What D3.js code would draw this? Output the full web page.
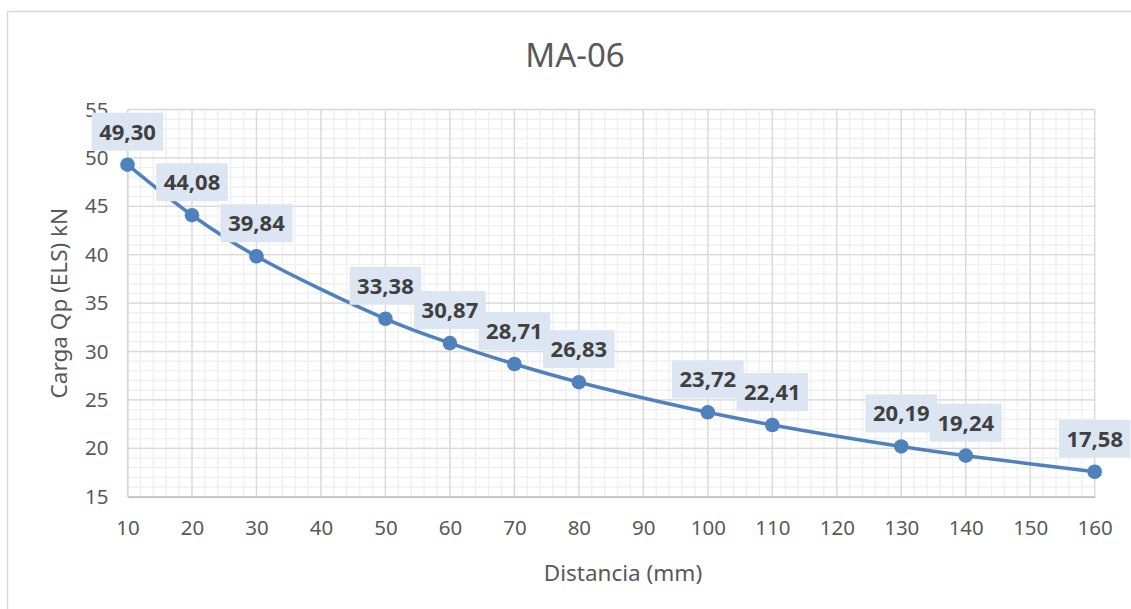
<!DOCTYPE html>
<html>
<head>
<meta charset="utf-8">
<script src="https://cdn.jsdelivr.net/npm/d3@7"></script>
<style>
html,body{margin:0;padding:0;background:#fff;}
svg{display:block;}
text{font-family:"Noto Sans","Open Sans",sans-serif;}
</style>
</head>
<body>
<svg id="chart" width="1131" height="609"></svg>
<script>
const chartTitle = "MA-06";
const xTitle = "Distancia (mm)";
const yTitle = "Carga Qp (ELS) kN";
const distances = [10, 20, 30, 50, 60, 70, 80, 100, 110, 130, 140, 160];
const loads = [49.30, 44.08, 39.84, 33.38, 30.87, 28.71, 26.83, 23.72, 22.41, 20.19, 19.24, 17.58];
const xTicks = [10, 20, 30, 40, 50, 60, 70, 80, 90, 100, 110, 120, 130, 140, 150, 160];
const yTicks = [15, 20, 25, 30, 35, 40, 45, 50, 55];
const xMinorStep = 2;
const yMinorStep = 1;

const svg = d3.select("#chart");
const W = 1131, H = 609;
const plot = {left: 127.5, right: 1094.7, top: 109.5, bottom: 496.7};

// outer chart border
svg.append("rect").attr("x", 7.5).attr("y", 11.5).attr("width", W + 10).attr("height", H + 10)
  .attr("fill", "#fff").attr("stroke", "#d9d9d9").attr("stroke-width", 1.5);

const x = d3.scaleLinear().domain([10, 160]).range([plot.left, plot.right]);
const y = d3.scaleLinear().domain([15, 55]).range([plot.bottom, plot.top]);

// minor grid
const xMinor = d3.range(10, 160 + 0.001, xMinorStep);
const yMinor = d3.range(15, 55 + 0.001, yMinorStep);
const g = svg.append("g");
g.selectAll(".xminor").data(xMinor).join("line")
  .attr("x1", d => x(d)).attr("x2", d => x(d)).attr("y1", plot.top).attr("y2", plot.bottom)
  .attr("stroke", "#f0f0f0").attr("stroke-width", 1.4);
g.selectAll(".yminor").data(yMinor).join("line")
  .attr("x1", plot.left).attr("x2", plot.right).attr("y1", d => y(d)).attr("y2", d => y(d))
  .attr("stroke", "#f0f0f0").attr("stroke-width", 1.4);
// major grid
g.selectAll(".xmajor").data(xTicks).join("line")
  .attr("x1", d => x(d)).attr("x2", d => x(d)).attr("y1", plot.top).attr("y2", plot.bottom)
  .attr("stroke", "#d9d9d9").attr("stroke-width", 1.3);
g.selectAll(".ymajor").data(yTicks).join("line")
  .attr("x1", plot.left).attr("x2", plot.right).attr("y1", d => y(d)).attr("y2", d => y(d))
  .attr("stroke", "#d9d9d9").attr("stroke-width", 1.3);

// axes
const xAxis = svg.append("g").attr("transform", `translate(0,${plot.bottom})`)
  .call(d3.axisBottom(x).tickValues(xTicks).tickSize(0).tickPadding(24).tickFormat(d3.format("d")));
xAxis.select(".domain").attr("stroke", "#bfbfbf").attr("stroke-width", 1.5);
xAxis.selectAll("text").attr("font-size", 20.5).attr("fill", "#595959")
  .attr("font-family", "'Noto Sans','Open Sans',sans-serif");

const yAxis = svg.append("g").attr("transform", `translate(${plot.left},0)`)
  .call(d3.axisLeft(y).tickValues(yTicks).tickSize(0).tickPadding(19).tickFormat(d3.format("d")));
yAxis.select(".domain").attr("stroke", "#d9d9d9").attr("stroke-width", 1.3);
yAxis.selectAll("text").attr("font-size", 20.5).attr("fill", "#595959")
  .attr("font-family", "'Noto Sans','Open Sans',sans-serif");

// titles
svg.append("text").attr("x", 575).attr("y", 67).attr("text-anchor", "middle")
  .attr("font-size", 33).attr("fill", "#595959").text(chartTitle);
svg.append("text").attr("x", 623).attr("y", 581).attr("text-anchor", "middle")
  .attr("font-size", 22.5).attr("fill", "#595959").text(xTitle);
svg.append("text").attr("transform", `translate(67,${(plot.top + plot.bottom) / 2}) rotate(-90)`)
  .attr("text-anchor", "middle").attr("font-size", 22.5).attr("fill", "#595959").text(yTitle);

// series
const data = distances.map((d, i) => ({x: d, y: loads[i]}));
const line = d3.line().x(d => x(d.x)).y(d => y(d.y)).curve(d3.curveCatmullRom.alpha(0.5));
svg.append("path").datum(data).attr("d", line).attr("fill", "none")
  .attr("stroke", "#4f81bd").attr("stroke-width", 3.5).attr("stroke-linecap", "round");
svg.selectAll(".pt").data(data).join("circle")
  .attr("cx", d => x(d.x)).attr("cy", d => y(d.y)).attr("r", 7.3).attr("fill", "#4f81bd");

// data labels
const fmt = v => v.toFixed(2).replace(".", ",");
const lbl = svg.selectAll(".lbl").data(data).join("g")
  .attr("transform", d => `translate(${x(d.x)},${y(d.y) - 33})`);
const rects = lbl.append("rect").attr("fill", "#dce6f2");
const texts = lbl.append("text").attr("text-anchor", "middle").attr("dy", "0.36em")
  .attr("font-size", 22).attr("font-weight", "bold").attr("fill", "#404040").text(d => fmt(d.y));
texts.each(function() {
  const b = this.getBBox();
  const w = b.width + 15;
  d3.select(this.parentNode).select("rect")
    .attr("x", -w / 2).attr("y", -19).attr("width", w).attr("height", 38);
});
</script>
</body>
</html>
